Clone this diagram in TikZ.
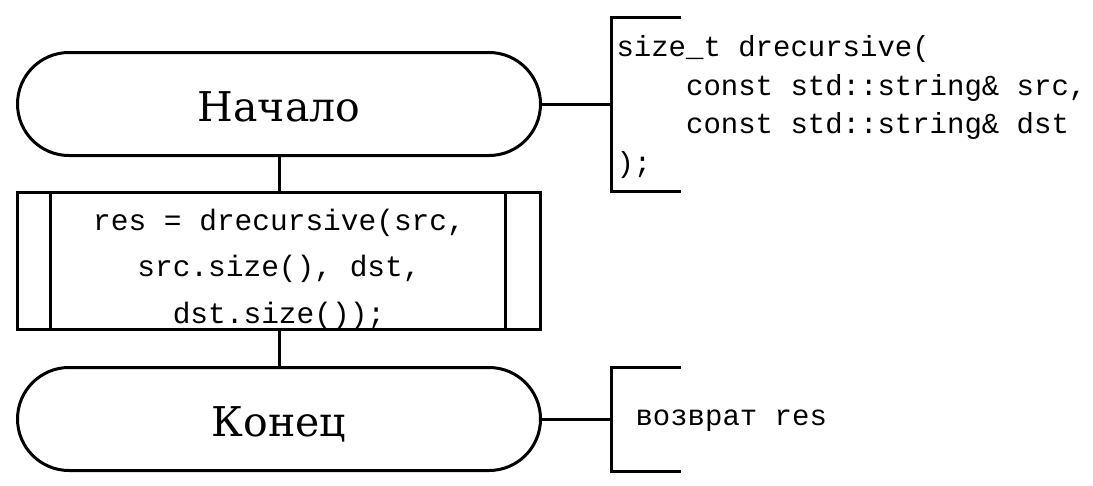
\documentclass[tikz,border=0pt]{standalone}
\usepackage{fontspec}
\setmainfont{DejaVu Serif}
\setmonofont{Liberation Mono}
\usetikzlibrary{positioning}
\begin{document}
\begin{tikzpicture}[x=1pt, y=-1pt, line width=3pt,
  term/.style={draw, rounded corners=51.5pt, minimum width=523pt, minimum height=103pt, inner sep=0pt,
    font=\fontsize{41}{49}\selectfont, text height=34pt, text depth=0pt},
  proc/.style={draw, minimum width=523pt, minimum height=137pt, inner sep=0pt, align=center,
    font=\ttfamily\fontsize{29.5}{46.5}\selectfont, text height=124pt, text depth=0pt},
  note/.style={inner sep=0pt, align=left, anchor=base west, font=\ttfamily\fontsize{29}{38.5}\selectfont}]
  \useasboundingbox (0,0) rectangle (1093,485);
  \node[term] (start) at (279,104) {Начало};
  \node[proc, below=34pt of start] (call) {res = drecursive(src,\\src.size(), dst,\\dst.size());};
  \node[term, below=35pt of call] (stop) {Конец};
  \draw (start) -- (call) (call) -- (stop);
  \foreach \x in {34,489}
  \draw ([xshift=\x pt]call.north west) -- ([xshift=\x pt]call.south west);
  \foreach \n/\h in {start/87,stop/52}
  \draw (\n.east) -- ++(69,0) coordinate (b\n) ++(70,-\h) -- ++(-70,0) -- ++(0,2*\h) -- ++(70,0);
  \node[note] (sig) at (615,172) {size\_t drecursive(\\\hspace*{2.4em}const std::string\& src,\\\hspace*{2.4em}const std::string\& dst\\);};
  \node[note] (ret) at (634,425) {возврат res};
\end{tikzpicture}
\end{document}
